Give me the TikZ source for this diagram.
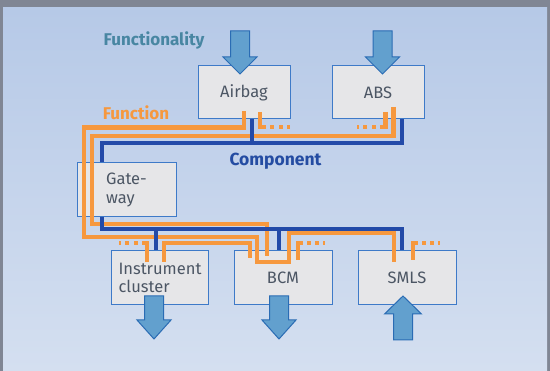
\documentclass[tikz,border=0pt]{standalone}
\usepackage{fontspec}
\setmainfont{Fira Sans}
\definecolor{frame}{RGB}{128,134,148}
\definecolor{bgtop}{RGB}{182,201,231}
\definecolor{bgbot}{RGB}{212,223,240}
\definecolor{fnc}{RGB}{246,152,62}
\definecolor{busc}{RGB}{35,74,168}
\definecolor{boxline}{RGB}{62,122,200}
\definecolor{boxfill}{RGB}{230,230,232}
\definecolor{arrfill}{RGB}{98,160,206}
\definecolor{arrline}{RGB}{42,108,180}
\definecolor{txt}{RGB}{76,86,100}
\definecolor{fltxt}{RGB}{72,134,162}
\definecolor{comptxt}{RGB}{36,76,162}
\tikzset{
  ecu/.style={draw=boxline, line width=1pt, fill=boxfill, minimum width=#1, minimum height=53pt, inner sep=0pt, text=txt, font=\fontsize{16.5}{18.5}\selectfont, align=left},
  fn/.style={draw=fnc, line width=4.6pt},
  fndot/.style={draw=fnc, line width=4.6pt},
  bus/.style={draw=busc, line width=3.2pt},
  arr/.style={draw=arrline, fill=arrfill, line width=1pt, line join=miter},
  hdr/.style={font=\bfseries\fontsize{17}{20}\selectfont}
}
\newcommand\blockdown[4]{\draw[arr] (#1-9.5,#2) -- (#1+9.5,#2) -- (#1+9.5,#3) -- (#1+17,#3) -- (#1,#4) -- (#1-17,#3) -- (#1-9.5,#3) -- cycle;}
\begin{document}
\begin{tikzpicture}[x=1pt,y=-1pt]
\useasboundingbox (0,0) rectangle (550,371);
\fill[frame] (0,0) rectangle (550,371);
\shade[top color=bgtop, bottom color=bgbot] (3,8) rectangle (547,371);

% boxes
\node[ecu=92pt] (airbag) at (244,92.5) {Airbag};
\node[ecu=92pt] (abs) at (378,92.5) {ABS};
\node[ecu=99pt, minimum height=54pt] (gw) at (126.5,190) {Gate-\\way};
\node[ecu=97pt, minimum height=54pt] (ic) at (160,278) {Instrument\\cluster};
\node[ecu=98pt, minimum height=54pt] (bcm) at (283,278) {BCM};
\node[ecu=98pt, minimum height=54pt] (smls) at (407,278) {SMLS};

% headings
\node[hdr, text=fltxt] (lfunc) at (154,40) {Functionality};
\node[hdr, text=fnc] (lfn) at (136,112.5) {Function};
\node[hdr, text=comptxt, font=\bfseries\fontsize{17.5}{20}\selectfont] (lcomp) at (275.5,161) {Component};

% functionality arrows
\blockdown{240}{31}{57}{74}
\blockdown{382.5}{31}{57}{74}
\blockdown{154}{296}{320}{339}
\blockdown{279}{296}{320}{339}
\draw[arr] (403-9.5,340) -- (403+9.5,340) -- (403+9.5,314) -- (403+18.5,314) -- (403,296) -- (403-18.5,314) -- (403-9.5,314) -- cycle;

% function (orange) lines
\draw[fn] ([xshift=0pt]airbag.south) ++(0,-8) coordinate (a0) -- ++(0,16) -| (84,237) -- (257,237) -- (257,262) -- (289,262) -- (289,233) -- (394,233) -- (394,262);
\draw[fn] (393.5,107) -- (393.5,136) -- (92,136) -- (92,224) -- (267,224) -- (267,256);
\draw[fn] (164,262) -- (164,243) -- (250,243) -- (250,258);
% fading stubs
\draw[fn] (260,112) -- (260,127) -- (266,127);
\draw[fndot] (270,127) -- (274,127) (279,127) -- (283,127) (287,127) -- (289.5,127);
\draw[fn] (385.5,112) -- (385.5,127) -- (380,127);
\draw[fndot] (376,127) -- (372,127) (367,127) -- (363,127) (359,127) -- (357,127);
\draw[fn] (147,262) -- (147,243) -- (142,243);
\draw[fndot] (138,243) -- (134,243) (129,243) -- (125,243) (121,243) -- (118.5,243);
\draw[fn] (298,260) -- (298,243) -- (303,243);
\draw[fndot] (307,243) -- (311,243) (315,243) -- (319,243) (323,243) -- (325,243);
\draw[fn] (413,260) -- (413,243) -- (418,243);
\draw[fndot] (422,243) -- (426,243) (430,243) -- (434,243) (438,243) -- (440,243);

% component bus
\draw[bus] (airbag.south -| 252,0) -- (252,143);
\draw[bus] (abs.south -| 402,0) -- (402,143) -- (102,143) -- (gw.north -| 102,0);
\draw[bus] (gw.south -| 102,0) -- (102,229) -- (402,229) -- (smls.north -| 402,0);
\draw[bus] (156,229) -- (ic.north -| 156,0);
\draw[bus] (279,229) -- (bcm.north -| 279,0);
\end{tikzpicture}
\end{document}
